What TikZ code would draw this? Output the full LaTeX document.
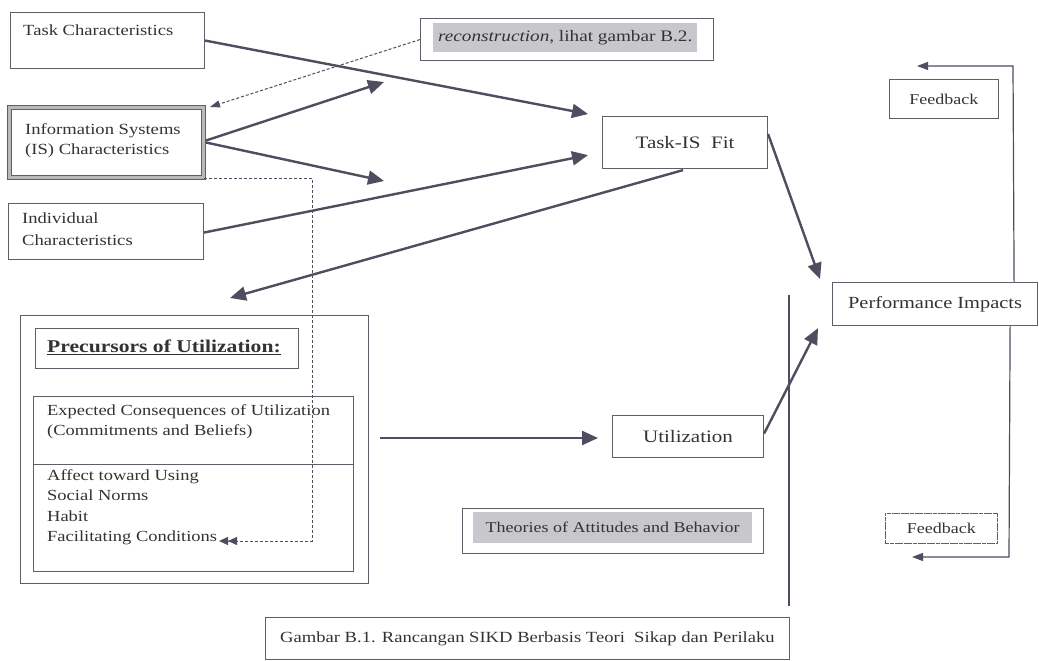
\documentclass[tikz,border=0pt]{standalone}
\usepackage{fontspec}
\setmainfont[FakeStretch=1.2]{Liberation Serif}
\usetikzlibrary{arrows.meta,calc}
\definecolor{ln}{RGB}{78,78,96}
\definecolor{bx}{RGB}{95,95,105}
\definecolor{shade}{RGB}{200,200,204}
\tikzset{
  box/.style={draw=bx,line width=1.1pt,anchor=north west,inner sep=0pt},
  txt/.style={anchor=north west,inner sep=0pt,align=left,text=black!80},
  lbl/.style={text=black!80,inner sep=0pt},
  arr/.style={draw=ln,line width=2.4pt,-{Triangle[length=16pt,width=14pt]}},
  thin/.style={draw=ln,line width=1.2pt},
  dsh/.style={draw=ln,line width=1pt,dash pattern=on 3pt off 2pt},
}
\begin{document}
\begin{tikzpicture}[x=1pt,y=-1pt]
\useasboundingbox[fill=white] (0,0) rectangle (1039,661);
% Task characteristics
\node[box,minimum width=194,minimum height=56] (tc) at (10,12) {};
\node[txt,font=\fontsize{15.5}{18}\selectfont] (tct) at ($(tc.north west)+(13,13)$) {Task Characteristics};
% IS characteristics
\node[box,draw=bx,double=gray!55,double distance=2.4pt,line width=1pt,minimum width=194,minimum height=70] (is) at (9,107) {};
\node[txt,font=\fontsize{15.5}{20}\selectfont] (ist) at ($(is.north west)+(16,16)$) {Information Systems\\(IS) Characteristics};
% Individual
\node[box,minimum width=195,minimum height=56] (ic) at (8,203) {};
\node[txt,font=\fontsize{15.5}{22}\selectfont] (ict) at ($(ic.north west)+(14,10)$) {Individual\\Characteristics};
% reconstruction
\node[box,minimum width=293,minimum height=42] (rc) at (420,18) {};
\node[fill=shade,anchor=north west,minimum width=264,minimum height=29,inner sep=0pt] (rcs) at (433,23) {};
\node[lbl,font=\fontsize{16}{18}\selectfont] (rct) at (rcs.center) {\textit{reconstruction}, lihat gambar B.2.};
% Task-IS Fit
\node[box,minimum width=165,minimum height=52] (fit) at (602,116) {};
\node[lbl,font=\fontsize{17.5}{19}\selectfont] (fitt) at (fit.center) {Task-IS\ \ Fit};
% Feedback top
\node[box,line width=0.9pt,minimum width=109,minimum height=39] (fb1) at (889,79) {};
\node[lbl,font=\fontsize{15}{17}\selectfont] (fb1t) at (fb1.center) {Feedback};
% Performance impacts
\node[box,fill=white,minimum width=205,minimum height=43] (pi) at (832,282) {};
\node[lbl,font=\fontsize{17}{19}\selectfont] (pit) at (pi.center) {Performance Impacts};
% Utilization
\node[box,minimum width=151,minimum height=42] (ut) at (612,415) {};
\node[lbl,font=\fontsize{17.5}{19}\selectfont] (utt) at (ut.center) {Utilization};
% Theories
\node[box,minimum width=301,minimum height=45] (th) at (462,508) {};
\node[fill=shade,anchor=north west,minimum width=279,minimum height=31,inner sep=0pt] (ths) at (473,512) {};
\node[lbl,font=\fontsize{15}{17}\selectfont] (tht) at (ths.center) {Theories of Attitudes and Behavior};
% Feedback bottom
\node[box,line width=0.9pt,dash pattern=on 4pt off 0.6pt,minimum width=112,minimum height=30] (fb2) at (885,513) {};
\node[lbl,font=\fontsize{15}{17}\selectfont] (fb2t) at (fb2.center) {Feedback};
% Caption
\node[box,line width=0.9pt,minimum width=524,minimum height=42] (cap) at (265,617) {};
\node[lbl,font=\fontsize{15.5}{17}\selectfont] (capt) at (cap.center) {Gambar B.1. Rancangan SIKD Berbasis Teori\ \ Sikap dan Perilaku};
% Precursors
\node[box,minimum width=348,minimum height=268] (pre) at (20,315) {};
\node[box,minimum width=263,minimum height=40] (preh) at (35,328) {};
\node[txt,font=\fontsize{18}{20}\selectfont\bfseries] (preht) at (47,340) {\underline{Precursors of Utilization:}};
\node[box,minimum width=320,minimum height=175] (inner) at (33,396) {};
\coordinate (divl) at (33,464);
\coordinate (divr) at (353,464);
\draw[bx,line width=1pt] (divl) -- (divr);
\node[txt,font=\fontsize{15.4}{20.5}\selectfont] (ect) at (47,404) {Expected Consequences of Utilization\\(Commitments and Beliefs)};
\node[txt,font=\fontsize{15.4}{20.5}\selectfont] (aft) at (47,469) {Affect toward Using\\Social Norms\\Habit\\Facilitating Conditions};
% vertical thick line
\coordinate (vt) at (789,295);
\coordinate (vb) at (789,606);
\draw[ln,line width=2.4pt] (vt) -- (vb);
% free-end coordinates
\coordinate (isup) at (384,82);
\coordinate (isdn) at (384,181);
\coordinate (prehd) at (230,298);
\coordinate (ecs) at (380,438);
\coordinate (ece) at (598,438);
\coordinate (fb1a) at (917,66);
\coordinate (fb1c) at (1013,66);
\coordinate (fb2c) at (1009,557);
\coordinate (fb2a) at (912,557);
\coordinate (dsc) at (312,178);
\coordinate (dsd) at (312,541);
\coordinate (dse) at (219,541);
% arrows
\draw[arr] (tc.east) -- ($(fit.north west)+(-14,-2)$);
\draw[arr] ($(is.east)+(2,-2)$) -- (isup);
\draw[arr] ($(is.east)+(2,0)$) -- (isdn);
\draw[arr] ($(ic.east)+(0,1)$) -- ($(fit.south west)+(-14,-14)$);
\draw[arr] ($(fit.south)+(-2,1)$) -- (prehd);
\draw[arr] ($(fit.north east)+(0,18)$) -- ($(pi.north west)+(-12,-3)$);
\draw[arr] ($(ut.east)+(0,-3)$) -- ($(pi.south west)+(-14,2)$);
\draw[arr] (ecs) -- (ece);
% feedback loop
\draw[thin,-{Triangle[length=11pt,width=8pt]}] ($(pi.north east)+(-24,0)$) -- (fb1c) -- (fb1a);
\draw[thin,-{Triangle[length=11pt,width=8pt]}] ($(pi.south east)+(-28,0)$) -- (fb2c) -- (fb2a);
% dashed
\draw[dsh,-{Triangle[length=10pt,width=7pt]}] (rc.west) -- ($(is.north east)+(6,0)$);
\draw[dsh,-{Triangle[length=9pt,width=8pt]Triangle[length=9pt,width=8pt]}] (is.south east) -- (dsc) -- (dsd) -- (dse);
\end{tikzpicture}
\end{document}
